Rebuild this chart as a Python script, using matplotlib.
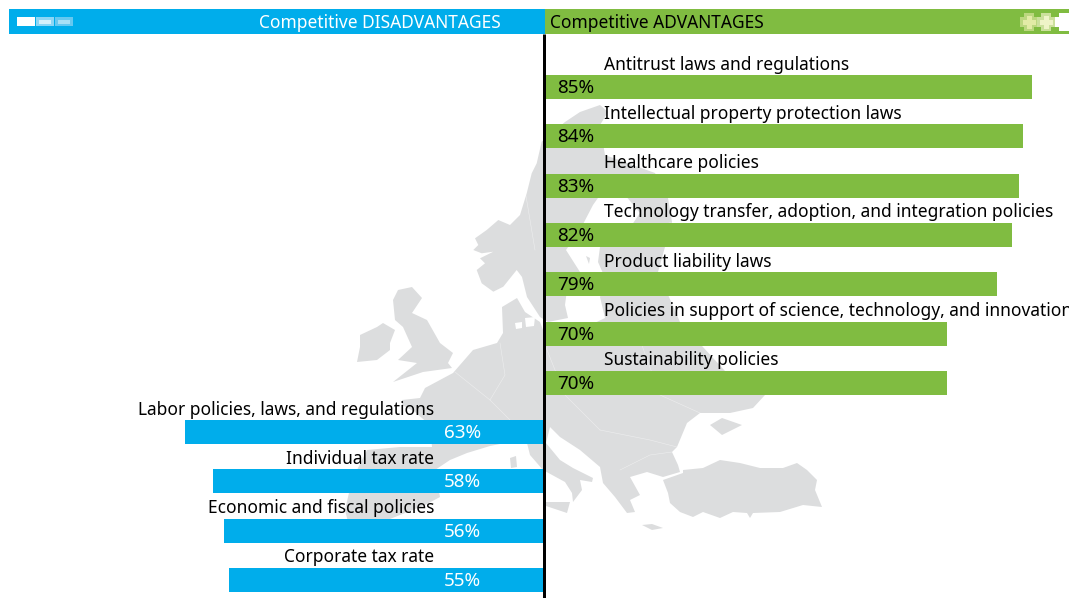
import matplotlib
matplotlib.use("Agg")
import matplotlib.pyplot as plt
from matplotlib.patches import Polygon, Rectangle

plt.rcParams['font.family'] = ['Noto Sans', 'DejaVu Sans']

adv_labels = ["Antitrust laws and regulations", "Intellectual property protection laws",
              "Healthcare policies", "Technology transfer, adoption, and integration policies",
              "Product liability laws", "Policies in support of science, technology, and innovation",
              "Sustainability policies"]
adv_values = [85.0, 83.4, 82.6, 81.4, 78.8, 70.2, 70.2]
adv_text = ["85%", "84%", "83%", "82%", "79%", "70%", "70%"]
dis_labels = ["Labor policies, laws, and regulations", "Individual tax rate",
              "Economic and fiscal policies", "Corporate tax rate"]
dis_values = [62.7, 57.8, 55.9, 55.1]
dis_text = ["63%", "58%", "56%", "55%"]

BLUE, GREEN, GREY = "#00ADEB", "#80BC41", "#DCDDDE"
W, H = 1069, 598
fig = plt.figure(figsize=(W/100, H/100), dpi=100, facecolor="white")

bg = fig.add_axes([0, 0, 1, 1], zorder=0)
bg.set_xlim(0, W); bg.set_ylim(H, 0); bg.axis("off")

map_shapes = [
 # mainland
 [(402,400),(420,398),(425,388),(453,373),(473,350),(497,343),(503,333),(502,307),(517,298),(525,312),(540,322),
  (545,335),(580,330),(605,318),(600,297),(606,280),(598,262),(600,247),(625,235),(672,222),(658,272),(680,322),
  (725,371),(765,395),(753,408),(730,413),(700,413),(687,423),(677,447),(672,452),(678,465),(680,472),(663,477),
  (647,472),(630,477),(640,495),(630,500),(635,512),(627,513),(615,497),(603,483),(600,467),(580,450),(560,437),
  (550,427),(546,443),(560,460),(573,468),(593,478),(592,482),(580,480),(582,490),(573,502),(572,493),(565,482),
  (543,470),(530,455),(527,443),(510,442),(490,446),(467,453),(450,460),(435,470),(440,497),(425,505),(390,519),
  (375,532),(350,530),(345,510),(352,480),(367,450),(400,447),(432,447),(430,425),(415,412),(402,405)],
 # Scandinavia and Finland
 [(541.7,141.7),(536.7,163.3),(531.7,173.3),(526.7,193.3),(520,215),(510,225),(498.3,220),(486.7,230),(475,238.3),
  (478.3,245),(473.3,250),(481.7,253.3),(493.3,251.7),(480,258.3),(485,263.3),(476.7,270),(481.7,283.3),
  (493.3,291.7),(503.3,286.7),(516.7,270),(522,277),(527,297),(540,317),(548,322),(568,318),(565,305),(567,290),
  (580,272),(566,250),(580,230),(593,205),(605,188),(625,195),(640,213),(625,235),(672,222),(668,198),(655,173),
  (605,155),(600,125),(608,112),(600,105),(580,112),(565,122)],
 # Great Britain
 [(398,290),(412,287),(422,298),(412,313),(427,320),(440,343),(453,353),(448,363),(452,368),(423,372),(393,382),
  (417,363),(398,360),(412,347),(403,327),(395,320),(393,300)],
 # Ireland
 [(383,323),(395,330),(390,343),(390,350),(377,360),(357,362),(360,347),(360,335),(377,327)],
 # Turkey
 [(683,470),(703,468),(720,460),(740,463),(760,468),(783,468),(797,463),(807,470),(817,480),(815,490),(822,507),
  (803,505),(780,512),(753,513),(750,518),(747,513),(733,512),(720,518),(703,512),(693,517),(680,512),(670,503),
  (668,493),(663,480),(683,473)],
 # Crimea, Crete, Sicily, Corsica, Gotland
 [(710,425),(722,418),(742,425),(722,435)],
 [(642,525),(652,524),(663,528),(652,530)],
 [(546,502),(570,502),(567,513),(546,506)],
 [(510,458),(516,456),(517,467),(511,468)],
 [(586,256),(590,258),(589,264)],
]
for s in map_shapes:
    bg.add_patch(Polygon(s, closed=True, fc=GREY, ec="none", zorder=1))
for s in [[(515,323),(522,322),(522,328),(516,329)], [(525,318),(535,317),(534,326),(526,327)]]:
    bg.add_patch(Polygon(s, closed=True, fc="white", ec="none", zorder=2))

borders = [[(500,343),(505,375),(490,400)], [(545,345),(565,395),(600,430)], [(600,430),(650,440),(677,447)],
           [(640,340),(660,395),(700,413)], [(455,372),(490,400),(530,440)], [(620,470),(650,455),(672,452)],
           [(525,190),(535,250)]]
for b in borders:
    bg.plot(*zip(*b), color="white", lw=0.4, alpha=0.5, zorder=2)

# header
bg.add_patch(Rectangle((9, 9), 535.5, 25, fc=BLUE, ec="none", zorder=3))
bg.add_patch(Rectangle((544.5, 9), 524.5, 25, fc=GREEN, ec="none", zorder=3))
for x0, outer, inner in [(17, "white", "white"), (36, "#8CD6F5", "#D5F0FB"), (55, "#66C8F0", "#A8E0F6")]:
    bg.add_patch(Rectangle((x0, 17), 18, 9, fc=outer, ec="none", zorder=4))
    bg.add_patch(Rectangle((x0+3, 19.5), 12, 4, fc=inner, ec="none", zorder=5))
def cross(cx, cy, arm, half, col, z):
    pts = [(cx-half,cy-arm),(cx+half,cy-arm),(cx+half,cy-half),(cx+arm,cy-half),(cx+arm,cy+half),(cx+half,cy+half),
           (cx+half,cy+arm),(cx-half,cy+arm),(cx-half,cy+half),(cx-arm,cy+half),(cx-arm,cy-half),(cx-half,cy-half)]
    bg.add_patch(Polygon(pts, closed=True, fc=col, ec="none", zorder=z))
cross(1029, 22, 9, 5, "#BBD77F", 4); cross(1029, 22, 6.5, 2.5, "#E2EBA6", 5)
cross(1046, 22, 9, 5, "#CBE09C", 4); cross(1046, 22, 6.5, 2.5, "#EFF4C8", 5)
cross(1064, 22, 9, 5, "white", 4)
FS = 12.5
bg.text(501, 22.5, "Competitive DISADVANTAGES", color="white", ha="right", va="center", fontsize=FS, zorder=6)
bg.text(550, 22.5, "Competitive ADVANTAGES", color="black", ha="left", va="center", fontsize=FS, zorder=6)

PX_PER_PCT, ROW, ROW0 = 5.74, 49.3, 87.0
ax = fig.add_axes([0, 0, 1, 1], zorder=1)
ax.patch.set_alpha(0)
ax.set_xlim(-545/PX_PER_PCT, (W-545)/PX_PER_PCT)
ax.set_ylim((H-ROW0)/ROW, -ROW0/ROW)
ax.axis("off")
pt = 72/100
bar_h = 24/ROW
n = len(adv_values)
PCT_FS = 13.6

ax.barh(range(n), adv_values, height=bar_h, left=-0.1, color=GREEN, zorder=2)
ax.barh(range(n, n+len(dis_values)), [-v for v in dis_values], height=bar_h, color=BLUE, zorder=2)
ax.plot([-0.2, -0.2], [(34-ROW0)/ROW, (H-ROW0)/ROW], color="black", lw=3*pt, solid_capstyle="butt", zorder=3)

for i, (lab, txt) in enumerate(zip(adv_labels, adv_text)):
    ax.annotate(lab, (0, i), xytext=(59*pt, 22.5*pt), textcoords="offset points", ha="left", va="center",
                fontsize=FS, color="black", annotation_clip=False, zorder=4)
    ax.annotate(txt, (0, i), xytext=(12*pt, -1*pt), textcoords="offset points", ha="left", va="center",
                fontsize=PCT_FS, color="black", zorder=4)
for j, (lab, txt) in enumerate(zip(dis_labels, dis_text)):
    i = n + j
    ax.annotate(lab, (0, i), xytext=(-111*pt, 22.5*pt), textcoords="offset points", ha="right", va="center",
                fontsize=FS, color="black", zorder=4)
    ax.annotate(txt, (0, i), xytext=(-64*pt, -1*pt), textcoords="offset points", ha="right", va="center",
                fontsize=PCT_FS, color="white", zorder=4)

fig.savefig("out.png", dpi=100)
